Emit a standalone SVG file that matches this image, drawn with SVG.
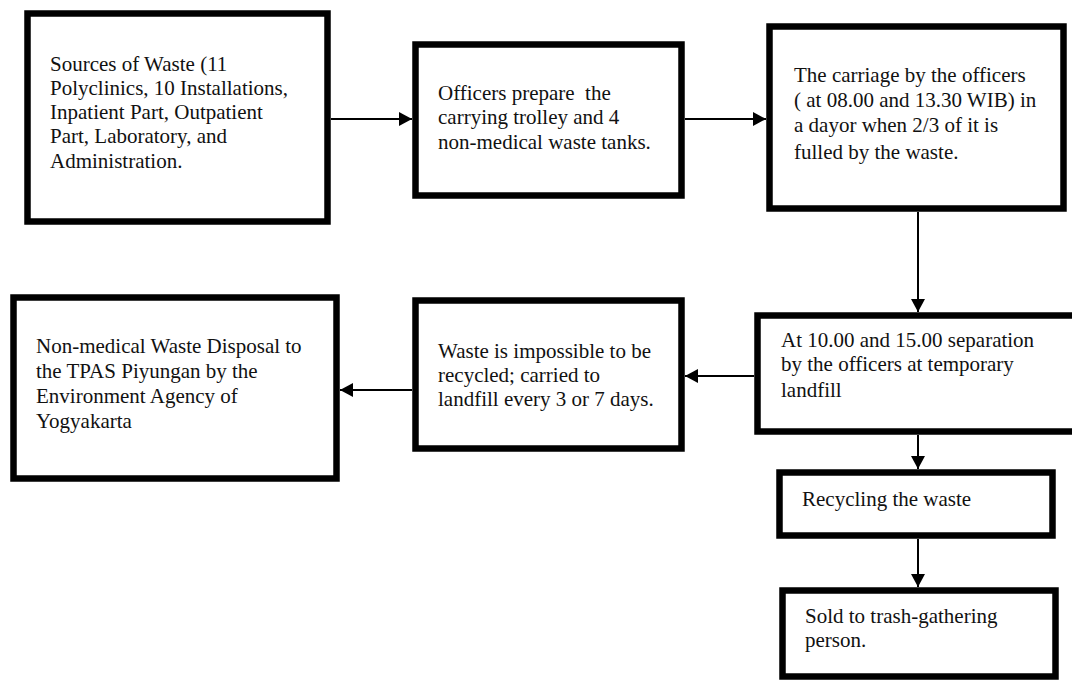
<svg xmlns="http://www.w3.org/2000/svg" width="1072" height="680" viewBox="0 0 1072 680">
<defs>
<style>
.box{fill:#fff;stroke:#000;stroke-width:6.5}
.t{font-family:"Liberation Serif","Times New Roman",serif;font-size:21px;fill:#111}
.c{stroke:#000;stroke-width:2;fill:none}
</style>
<marker id="ah" viewBox="0 0 13 14" refX="13" refY="7" markerWidth="13" markerHeight="14" markerUnits="userSpaceOnUse" orient="auto">
<path d="M0,0 L13,7 L0,14 Z" fill="#000"/>
</marker>
</defs>
<rect width="1072" height="680" fill="#fff"/>
<g id="connectors">
<line class="c" x1="331" y1="119" x2="412" y2="119" marker-end="url(#ah)"/>
<line class="c" x1="685" y1="119" x2="766" y2="119" marker-end="url(#ah)"/>
<line class="c" x1="918" y1="212" x2="918" y2="312" marker-end="url(#ah)"/>
<line class="c" x1="754" y1="376" x2="685" y2="376" marker-end="url(#ah)"/>
<line class="c" x1="412" y1="390" x2="340" y2="390" marker-end="url(#ah)"/>
<line class="c" x1="918" y1="435" x2="918" y2="469" marker-end="url(#ah)"/>
<line class="c" x1="918" y1="539" x2="918" y2="587" marker-end="url(#ah)"/>
</g>
<g id="sources">
<rect class="box" x="27.5" y="13.5" width="300" height="208"/>
<text class="t" x="50" y="71">Sources of Waste (11</text>
<text class="t" x="50" y="95">Polyclinics, 10 Installations,</text>
<text class="t" x="50" y="119">Inpatient Part, Outpatient</text>
<text class="t" x="50" y="143">Part, Laboratory, and</text>
<text class="t" x="50" y="168">Administration.</text>
</g>
<g id="prepare">
<rect class="box" x="415.5" y="44.5" width="266" height="151"/>
<text class="t" x="438" y="100" xml:space="preserve">Officers prepare  the</text>
<text class="t" x="438" y="124">carrying trolley and 4</text>
<text class="t" x="438" y="149">non-medical waste tanks.</text>
</g>
<g id="carriage">
<rect class="box" x="769.5" y="26.5" width="294" height="182"/>
<text class="t" x="794" y="82">The carriage by the officers</text>
<text class="t" x="794" y="107">( at 08.00 and 13.30 WIB) in</text>
<text class="t" x="794" y="132">a dayor when 2/3 of it is</text>
<text class="t" x="794" y="159">fulled by the waste.</text>
</g>
<g id="separation">
<rect class="box" x="757.5" y="315.5" width="330" height="116"/>
<text class="t" x="781" y="347">At 10.00 and 15.00 separation</text>
<text class="t" x="781" y="371">by the officers at temporary</text>
<text class="t" x="781" y="397">landfill</text>
</g>
<g id="impossible">
<rect class="box" x="415.5" y="300.5" width="266" height="148"/>
<text class="t" x="438" y="358">Waste is impossible to be</text>
<text class="t" x="438" y="382">recycled; carried to</text>
<text class="t" x="438" y="406">landfill every 3 or 7 days.</text>
</g>
<g id="disposal">
<rect class="box" x="13.5" y="297.5" width="323" height="181"/>
<text class="t" x="36" y="353">Non-medical Waste Disposal to</text>
<text class="t" x="36" y="378">the TPAS Piyungan by the</text>
<text class="t" x="36" y="403">Environment Agency of</text>
<text class="t" x="36" y="428">Yogyakarta</text>
</g>
<g id="recycling">
<rect class="box" x="779.5" y="472.5" width="273" height="63"/>
<text class="t" x="802" y="506">Recycling the waste</text>
</g>
<g id="sold">
<rect class="box" x="782.5" y="590.5" width="273" height="86"/>
<text class="t" x="805" y="623">Sold to trash-gathering</text>
<text class="t" x="805" y="647">person.</text>
</g>
</svg>
